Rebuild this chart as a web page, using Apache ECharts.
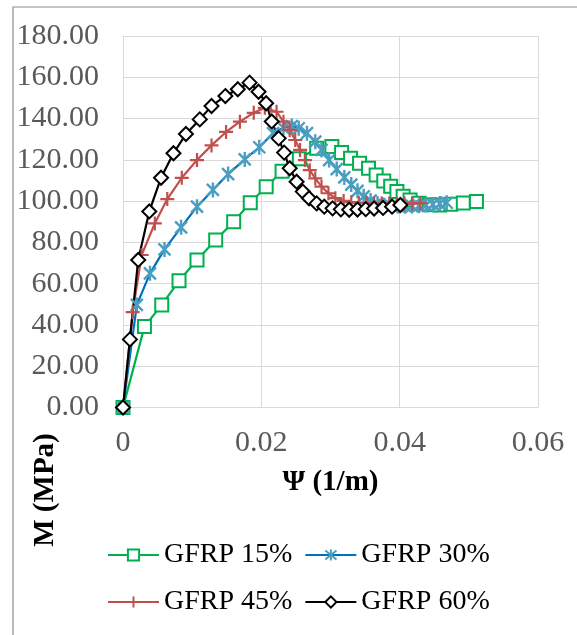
<!DOCTYPE html>
<html>
<head>
<meta charset="utf-8">
<script src="https://cdn.jsdelivr.net/npm/echarts@6/dist/echarts.min.js"></script>
<style>
html,body{margin:0;padding:0;background:#fff;}
#chart{width:577px;height:635px;}
</style>
</head>
<body>
<div id="chart"></div>
<script>
// ---- data (Ψ in 1/m, M in MPa) ----
const seriesNames = ['GFRP 15%', 'GFRP 30%', 'GFRP 45%', 'GFRP 60%'];

const gfrp15 = [
  [0,0],[0.0031,39.2],[0.0056,49.7],[0.0081,61.4],[0.0107,71.5],[0.0134,81.2],[0.0160,90.0],
  [0.0184,99.2],[0.0207,107.0],[0.0230,114.5],[0.0255,120.5],[0.0280,125.6],[0.0302,126.4],
  [0.0316,123.5],[0.0329,120.8],[0.0342,118.3],[0.0355,115.9],[0.0366,112.6],[0.0377,109.8],
  [0.0387,107.2],[0.0396,104.6],[0.0405,102.3],[0.0415,100.5],[0.0428,99.0],[0.0443,98.2],
  [0.0458,98.1],[0.0474,98.5],[0.0492,99.1],[0.0511,99.8]
];
const gfrp30 = [
  [0,0],[0.0020,49.7],[0.0039,65.0],[0.0060,76.6],[0.0084,87.3],[0.0107,97.3],[0.0130,105.4],
  [0.0152,113.1],[0.0176,120.2],[0.0197,126.1],[0.0217,132.9],[0.0232,135.5],[0.0244,136.4],
  [0.0254,135.3],[0.0266,132.9],[0.0278,128.8],[0.0287,124.8],[0.0298,119.9],[0.0309,115.5],
  [0.0320,111.5],[0.0330,108.0],[0.0339,105.0],[0.0348,102.3],[0.0358,100.3],[0.0368,98.8],
  [0.0378,98.0],[0.0388,97.6],[0.0398,97.5],[0.0408,97.5],[0.0418,97.6],[0.0428,97.8],
  [0.0438,98.1],[0.0448,98.4],[0.0458,98.8],[0.0468,99.2]
];
const gfrp45 = [
  [0,0],[0.0014,46.2],[0.0027,73.9],[0.0046,89.2],[0.0064,101.0],[0.0085,111.3],[0.0107,119.9],
  [0.0128,127.0],[0.0149,133.5],[0.0169,138.5],[0.0189,142.8],[0.0205,145.2],[0.0222,143.3],
  [0.0232,138.5],[0.0241,134.5],[0.0249,129.6],[0.0256,124.8],[0.0263,119.9],[0.0270,115.0],
  [0.0278,111.0],[0.0287,107.0],[0.0297,103.8],[0.0307,101.4],[0.0319,100.1],[0.0330,99.5],
  [0.0341,99.2],[0.0352,99.0],[0.0363,98.9],[0.0374,98.8],[0.0385,98.8],[0.0396,98.8],
  [0.0407,98.9],[0.0418,98.9],[0.0430,99.0]
];
const gfrp60 = [
  [0,0],[0.0010,33.0],[0.0022,71.5],[0.0038,95.0],[0.0055,111.3],[0.0073,123.2],[0.0091,132.5],
  [0.0111,139.6],[0.0128,146.1],[0.0148,150.9],[0.0166,154.2],[0.0183,157.4],[0.0196,153.0],
  [0.0207,147.4],[0.0215,138.6],[0.0225,130.4],[0.0233,123.5],[0.0241,115.9],[0.0251,109.4],
  [0.0260,104.6],[0.0269,101.4],[0.0280,98.9],[0.0291,97.3],[0.0303,96.5],[0.0315,96.0],
  [0.0327,95.8],[0.0339,95.9],[0.0351,96.1],[0.0363,96.4],[0.0376,96.7],[0.0389,97.3],
  [0.0401,98.1]
];

const xTickLabels = ['0', '0.02', '0.04', '0.06'];
const yTickLabels = ['0.00','20.00','40.00','60.00','80.00','100.00','120.00','140.00','160.00','180.00'];

const xTitle = 'Ψ (1/m)';
const yTitle = 'M (MPa)';

// ---- chart ----
const FONT = 'Liberation Serif, Times New Roman, serif';
const chart = echarts.init(document.getElementById('chart'), null, {renderer: 'canvas'});

const asterisk = 'path://M0,-10L0,10M-8,-8L8,8M-8,8L8,-8';
const plus = 'path://M0,-10L0,10M-10,0L10,0';

function mkSeries(name, data, lineColor, symbol, size, fill, border, bw) {
  return {
    name: name,
    type: 'line',
    data: data,
    smooth: false,
    symbol: symbol,
    symbolSize: size,
    symbolKeepAspect: true,
    showSymbol: true,
    lineStyle: {color: lineColor, width: 2.2},
    itemStyle: {color: fill, borderColor: border, borderWidth: bw},
    emphasis: {disabled: true},
    animation: false
  };
}

const legendBase = {
  left: 107,
  padding: 0,
  orient: 'horizontal',
  itemWidth: 51,
  itemHeight: 14,
  itemGap: 12,
  textStyle: {fontFamily: FONT, fontSize: 28, color: '#000'},
  selectedMode: false
};

chart.setOption({
  backgroundColor: '#fff',
  animation: false,
  textStyle: {fontFamily: FONT},
  grid: {left: 123, top: 36, right: 39, bottom: 227.5, containLabel: false},
  xAxis: {
    type: 'value',
    min: 0, max: 0.06, interval: 0.02,
    name: xTitle,
    nameLocation: 'middle',
    nameGap: 61,
    nameTextStyle: {fontFamily: FONT, fontSize: 29, fontWeight: 'bold', color: '#000'},
    axisLine: {show: true, onZero: false, lineStyle: {color: '#D9D9D9', width: 1}},
    axisTick: {show: false},
    axisLabel: {
      fontFamily: FONT, fontSize: 30, color: '#595959', margin: 21,
      formatter: function (v, i) { return xTickLabels[i]; }
    },
    splitLine: {show: true, lineStyle: {color: '#D9D9D9', width: 1}}
  },
  yAxis: {
    type: 'value',
    min: 0, max: 180, interval: 20,
    axisLine: {show: true, lineStyle: {color: '#D9D9D9', width: 1}},
    axisTick: {show: false},
    axisLabel: {
      fontFamily: FONT, fontSize: 30, color: '#595959', margin: 24,
      formatter: function (v, i) { return yTickLabels[i]; }
    },
    splitLine: {show: true, lineStyle: {color: '#D9D9D9', width: 1}}
  },
  legend: [
    Object.assign({}, legendBase, {top: 541, data: [seriesNames[0], seriesNames[1]]}),
    Object.assign({}, legendBase, {top: 588, data: [seriesNames[2], seriesNames[3]]})
  ],
  graphic: [
    {
      type: 'rect', silent: true, z: -10,
      shape: {x: 13, y: 7, width: 700, height: 800},
      style: {fill: 'none', stroke: '#8C8C8C', lineWidth: 1.2}
    },
    {
      type: 'text', silent: true,
      x: 46, y: 490, rotation: Math.PI / 2,
      style: {
        text: yTitle, font: 'bold 29px ' + FONT, fill: '#000',
        align: 'center', verticalAlign: 'middle'
      }
    }
  ],
  series: [
    mkSeries(seriesNames[0], gfrp15, '#00B050', 'rect', 13, '#fff', '#00B050', 2),
    mkSeries(seriesNames[1], gfrp30, '#0070C0', asterisk, 15, 'none', '#4A9EC0', 2.4),
    mkSeries(seriesNames[2], gfrp45, '#C0504D', plus, 14, 'none', '#C0504D', 2.2),
    mkSeries(seriesNames[3], gfrp60, '#000000', 'diamond', 14, '#fff', '#000000', 2)
  ]
});
</script>
</body>
</html>
